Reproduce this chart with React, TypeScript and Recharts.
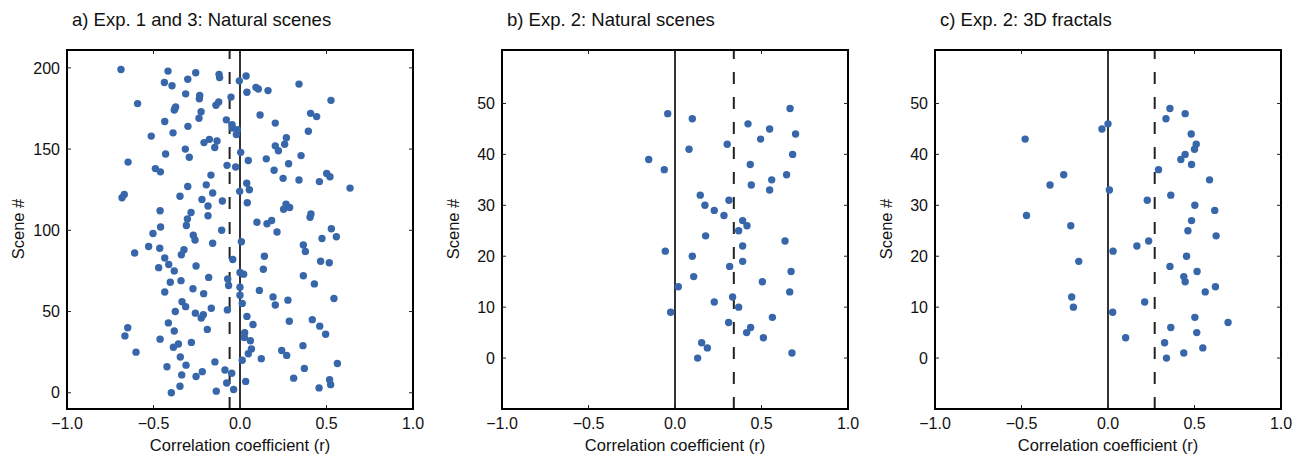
import React from "react";
import {
  ReferenceLine,
  Scatter,
  ScatterChart,
  XAxis,
  YAxis,
} from "recharts";

// Exp. 1 and 3: correlation per scene (scene # 0..199)
const sceneA = [
  0, 1, 2, 3, 4, 5, 6, 7, 8, 9, 10, 11, 12, 13, 14, 15, 16, 17, 18, 19,
  20, 21, 22, 23, 24, 25, 26, 27, 28, 29, 30, 31, 32, 33, 34, 35, 36, 37, 38, 39,
  40, 41, 42, 43, 44, 45, 46, 47, 48, 49, 50, 51, 52, 53, 54, 55, 56, 57, 58, 59,
  60, 61, 62, 63, 64, 65, 66, 67, 68, 69, 70, 71, 72, 73, 74, 75, 76, 77, 78, 79,
  80, 81, 82, 83, 84, 85, 86, 87, 88, 89, 90, 91, 92, 93, 94, 95, 96, 97, 98, 99,
  100, 101, 102, 103, 104, 105, 106, 107, 108, 109, 110, 111, 112, 113, 114, 115, 116, 117, 118, 119,
  120, 121, 122, 123, 124, 125, 126, 127, 128, 129, 130, 131, 132, 133, 134, 135, 136, 137, 138, 139,
  140, 141, 142, 143, 144, 145, 146, 147, 148, 149, 150, 151, 152, 153, 154, 155, 156, 157, 158, 159,
  160, 161, 162, 163, 164, 165, 166, 167, 168, 169, 170, 171, 172, 173, 174, 175, 176, 177, 178, 179,
  180, 181, 182, 183, 184, 185, 186, 187, 188, 189, 190, 191, 192, 193, 194, 195, 196, 197, 198, 199,
];
const corrA = [
  -0.397, -0.137, -0.037, 0.457, -0.347, 0.524, -0.077, 0.033, 0.518, 0.31,
  -0.254, -0.337, -0.048, -0.218, -0.087, 0.372, -0.422, -0.312, 0.563, -0.145,
  0.013, 0.123, -0.345, 0.27, 0.048, -0.601, 0.241, 0.066, -0.385, 0.364,
  -0.356, -0.281, 0.06, -0.462, 0.025, -0.665, 0.495, 0.027, -0.38, -0.189,
  -0.649, 0.461, 0.075, -0.414, 0.285, 0.418, -0.224, 0.04, -0.212, -0.258,
  -0.374, -0.073, -0.166, -0.314, 0.204, 0.013, -0.335, 0.277, 0.543, 0.191,
  0.0, -0.21, -0.435, 0.112, -0.272, 0.0, -0.066, 0.43, -0.403, -0.341,
  -0.071, -0.181, 0.366, 0.021, 0.0, -0.38, 0.135, -0.47, -0.254, -0.412,
  0.516, 0.466, -0.042, -0.435, 0.141, -0.339, -0.609, 0.378, -0.324, -0.464,
  -0.528, 0.366, -0.158, 0.008, -0.26, 0.474, 0.557, -0.27, -0.503, 0.214,
  -0.106, 0.528, -0.459, -0.31, 0.156, 0.098, 0.183, -0.304, 0.405, -0.185,
  0.41, -0.283, -0.462, 0.252, 0.287, -0.185, 0.266, 0.042, -0.102, -0.22,
  -0.682, -0.347, -0.669, -0.158, -0.002, 0.054, 0.636, -0.302, -0.195, 0.039,
  0.459, 0.341, 0.249, 0.52, -0.168, 0.501, -0.46, 0.197, -0.489, -0.025,
  -0.075, 0.281, -0.647, 0.048, 0.152, -0.293, 0.353, -0.43, 0.004, 0.222,
  -0.316, -0.146, 0.204, 0.258, -0.208, -0.133, -0.177, 0.268, -0.513, -0.021,
  -0.387, 0.395, -0.015, -0.044, -0.301, -0.046, 0.204, -0.435, -0.079, -0.237,
  0.443, 0.116, 0.408, -0.225, -0.38, -0.376, -0.372, -0.139, -0.592, -0.123,
  0.526, -0.235, -0.052, -0.233, -0.314, 0.04, 0.162, 0.106, 0.092, -0.393,
  0.341, -0.437, -0.004, -0.302, -0.118, 0.035, -0.121, -0.256, -0.416, -0.688,
];

// Exp. 2: natural scenes (scene # 0..49)
const sceneB = [
  0, 1, 2, 3, 4, 5, 6, 7, 8, 9, 10, 11, 12, 13, 14, 15, 16, 17, 18, 19,
  20, 21, 22, 23, 24, 25, 26, 27, 28, 29, 30, 31, 32, 33, 34, 35, 36, 37, 38, 39,
  40, 41, 42, 43, 44, 45, 46, 47, 48, 49,
];
const corrB = [
  0.131, 0.676, 0.187, 0.154, 0.511, 0.414, 0.437, 0.31, 0.563, -0.025,
  0.368, 0.227, 0.333, 0.663, 0.019, 0.505, 0.108, 0.671, 0.316, 0.391,
  0.1, -0.056, 0.391, 0.636, 0.177, 0.368, 0.416, 0.391, 0.283, 0.227,
  0.173, 0.312, 0.146, 0.547, 0.441, 0.559, 0.645, -0.062, 0.435, -0.152,
  0.68, 0.081, 0.302, 0.495, 0.697, 0.547, 0.422, 0.1, -0.042, 0.665,
];

// Exp. 2: 3D fractals (scene # 0..49)
const sceneC = [
  0, 1, 2, 3, 4, 5, 6, 7, 8, 9, 10, 11, 12, 13, 14, 15, 16, 17, 18, 19,
  20, 21, 22, 23, 24, 25, 26, 27, 28, 29, 30, 31, 32, 33, 34, 35, 36, 37, 38, 39,
  40, 41, 42, 43, 44, 45, 46, 47, 48, 49,
];
const corrC = [
  0.338, 0.438, 0.548, 0.327, 0.102, 0.513, 0.363, 0.694, 0.502, 0.027,
  -0.2, 0.212, -0.21, 0.562, 0.621, 0.446, 0.438, 0.515, 0.358, -0.169,
  0.454, 0.029, 0.167, 0.235, 0.625, 0.462, -0.215, 0.483, -0.471, 0.617,
  0.502, 0.227, 0.363, 0.008, -0.335, 0.587, -0.256, 0.292, 0.483, 0.421,
  0.446, 0.5, 0.51, -0.479, 0.481, -0.035, 0.0, 0.335, 0.446, 0.358,
];

const xTicks = [-1.0, -0.5, 0.0, 0.5, 1.0];
const yTicksA = [0, 50, 100, 150, 200];
const yTicksBC = [0, 10, 20, 30, 40, 50];

const meanA = -0.06;
const meanB = 0.34;
const meanC = 0.27;

const FONT = '"Liberation Sans", Arial, Helvetica, sans-serif';
const DOT = "#3767aa";
const W = 435;
const H = 457;

type Pt = { r: number; scene: number };

const toPoints = (corr: number[], scene: number[]): Pt[] =>
  corr.map((r, i) => ({ r, scene: scene[i] }));

const frame = { stroke: "#000", strokeWidth: 2, strokeLinecap: "square" as const };
const tickLine = { stroke: "#222", strokeWidth: 1 };
const tickFont = { fontSize: 16, fill: "#111", fontFamily: FONT };

const fmtX = (v: number) => (v < 0 ? "\u2212" + Math.abs(v).toFixed(1) : v.toFixed(1));

const Dot = (p: any) => <circle cx={p.cx} cy={p.cy} r={3.7} fill={DOT} />;

type PanelProps = {
  left: number;
  title: string;
  data: Pt[];
  yDomain: [number, number];
  yTicks: number[];
  mean: number;
};

function Panel({ left, title, data, yDomain, yTicks, mean }: PanelProps) {
  return (
    <div style={{ position: "absolute", left, top: 0, width: W, height: H }}>
      <ScatterChart
        width={W}
        height={H}
        margin={{ top: 49, right: 21, bottom: 0, left: 27 }}
      >
        <XAxis
          xAxisId="b"
          type="number"
          dataKey="r"
          domain={[-1, 1]}
          ticks={xTicks}
          allowDataOverflow
          height={48}
          axisLine={frame}
          tickLine={tickLine}
          tickSize={-4}
          tickMargin={13}
          tick={tickFont}
          tickFormatter={fmtX}
        />
        <XAxis
          xAxisId="t"
          orientation="top"
          type="number"
          dataKey="r"
          domain={[-1, 1]}
          ticks={xTicks}
          allowDataOverflow
          height={1}
          axisLine={frame}
          tickLine={tickLine}
          tickSize={-4}
          tick={() => <g />}
        />
        <YAxis
          yAxisId="l"
          type="number"
          dataKey="scene"
          domain={yDomain}
          ticks={yTicks}
          allowDataOverflow
          width={40}
          axisLine={frame}
          tickLine={tickLine}
          tickSize={-4}
          tickMargin={11}
          tick={tickFont}
        />
        <YAxis
          yAxisId="r"
          orientation="right"
          type="number"
          dataKey="scene"
          domain={yDomain}
          ticks={yTicks}
          allowDataOverflow
          width={1}
          axisLine={frame}
          tickLine={tickLine}
          tickSize={-4}
          tick={() => <g />}
        />
        <ReferenceLine xAxisId="b" yAxisId="l" x={0} stroke="#000" strokeWidth={1.6} />
        <ReferenceLine
          xAxisId="b"
          yAxisId="l"
          x={mean}
          stroke="#222"
          strokeWidth={2}
          strokeDasharray="12 13"
        />
        <Scatter
          xAxisId="b"
          yAxisId="l"
          data={data}
          fill={DOT}
          shape={Dot}
          isAnimationActive={false}
        />
      </ScatterChart>
      <svg
        width={W}
        height={H}
        style={{ position: "absolute", left: 0, top: 0, pointerEvents: "none" }}
        fontFamily={FONT}
      >
        <text x={72} y={26} fontSize={18.5} fill="#111">
          {title}
        </text>
        <text
          x={18}
          y={229}
          fontSize={16.5}
          fill="#111"
          textAnchor="middle"
          dy="0.35em"
          transform="rotate(-90, 18, 229)"
        >
          Scene #
        </text>
        <text x={240} y={451} fontSize={16.5} fill="#111" textAnchor="middle">
          Correlation coefficient (r)
        </text>
      </svg>
    </div>
  );
}

export default function App() {
  return (
    <div
      style={{
        position: "absolute",
        left: 0,
        top: 0,
        width: 1306,
        height: 457,
        background: "#fff",
        fontFamily: FONT,
      }}
    >
      <Panel
        left={0}
        title="a) Exp. 1 and 3: Natural scenes"
        data={toPoints(corrA, sceneA)}
        yDomain={[-10, 211]}
        yTicks={yTicksA}
        mean={meanA}
      />
      <Panel
        left={435}
        title="b) Exp. 2: Natural scenes"
        data={toPoints(corrB, sceneB)}
        yDomain={[-10, 60.5]}
        yTicks={yTicksBC}
        mean={meanB}
      />
      <Panel
        left={868}
        title="c) Exp. 2: 3D fractals"
        data={toPoints(corrC, sceneC)}
        yDomain={[-10, 60.5]}
        yTicks={yTicksBC}
        mean={meanC}
      />
    </div>
  );
}
